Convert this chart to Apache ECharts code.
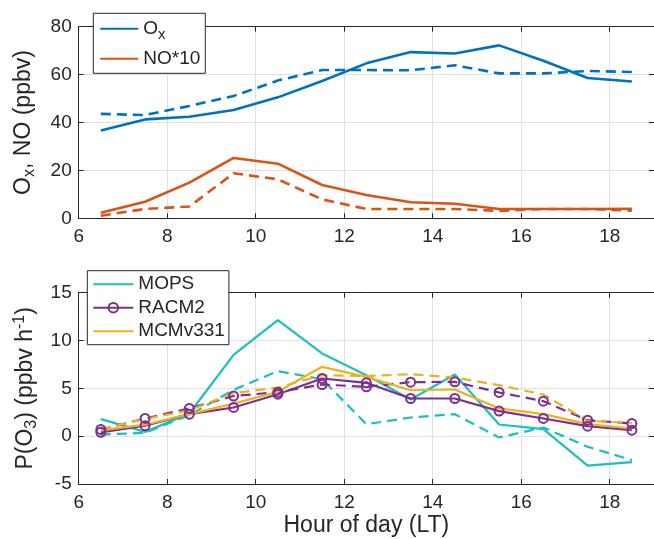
<!DOCTYPE html>
<html>
<head>
<meta charset="utf-8">
<script src="https://cdn.jsdelivr.net/npm/echarts@6/dist/echarts.min.js"></script>
<style>
html,body{margin:0;padding:0;background:#fff;}
#chart{width:654px;height:539px;}
</style>
</head>
<body>
<div id="chart"></div>
<script>
// ---- data ----
const hours = [6.5, 7.5, 8.5, 9.5, 10.5, 11.5, 12.5, 13.5, 14.5, 15.5, 16.5, 17.5, 18.5];

const oxSolid   = [36.7, 41.3, 42.4, 45.2, 50.5, 57.3, 64.7, 69.4, 68.8, 72.2, 65.8, 58.6, 57.1];
const oxDashed  = [43.6, 43.1, 46.9, 51.1, 57.5, 61.9, 61.9, 61.8, 63.9, 60.5, 60.5, 61.5, 61.1];
const no10Solid = [2.3, 6.9, 14.9, 25.2, 22.8, 13.9, 9.7, 6.7, 6.1, 3.9, 3.9, 3.9, 4.0];
const no10Dashed= [1.1, 3.9, 4.9, 18.8, 16.3, 7.9, 3.9, 3.9, 3.9, 3.1, 3.9, 3.9, 3.2];

const mopsSolid  = [1.78, 0.45, 2.37, 8.5, 12.13, 8.65, 6.38, 3.84, 6.45, 1.22, 0.73, -3.07, -2.72];
const mopsDashed = [0.17, 0.35, 2.2, 4.85, 6.8, 5.96, 1.25, 1.95, 2.3, -0.14, 0.91, -1.1, -2.5];
const racmSolid  = [0.4, 1.1, 2.3, 3.0, 4.39, 6.03, 5.58, 3.94, 3.94, 2.62, 1.85, 1.05, 0.63];
const racmDashed = [0.7, 1.85, 2.9, 4.2, 4.6, 5.4, 5.16, 5.65, 5.68, 4.57, 3.66, 1.67, 1.32];
const mcmSolid   = [0.6, 1.2, 2.3, 3.4, 4.64, 7.25, 6.2, 4.8, 4.88, 2.9, 2.3, 1.26, 0.8];
const mcmDashed  = [0.75, 1.8, 2.7, 4.5, 5.09, 6.38, 6.28, 6.48, 6.14, 5.33, 4.36, 1.6, 1.39];

const xTicks = [6, 8, 10, 12, 14, 16, 18];
const topLegend = ['Ox', 'NO*10'];
const bottomLegend = ['MOPS', 'RACM2', 'MCMv331'];

// ---- styling ----
const FONT = '"Liberation Sans", Arial, Helvetica, sans-serif';
const INK = '#262626';
const GRID = '#e0e0e0';
const C = { ox: '#0072BD', no: '#D95319', mops: '#1CBFBF', racm: '#7E2F8E', mcm: '#EDB120' };
const CLEAR = 'rgba(0,0,0,0)';
const TICK_FS = 19, NAME_FS = 23, LEG_FS = 19;

function pairs(ys) { return hours.map((h, i) => [h, ys[i]]); }

function xAx(gi, pos, labels) {
  return {
    type: 'value', gridIndex: gi, position: pos, min: 6, max: 19, interval: 2,
    axisLine: { show: true, onZero: false, lineStyle: { color: INK, width: 1 } },
    axisTick: { show: true, inside: true, length: 5, lineStyle: { color: INK } },
    axisLabel: { show: labels, color: INK, fontSize: TICK_FS, fontFamily: FONT, margin: 9, showMaxLabel: false,
                 formatter: v => xTicks.indexOf(v) >= 0 ? String(v) : '' },
    splitLine: { show: labels, lineStyle: { color: GRID, width: 1 } }
  };
}
function yAx(gi, pos, min, max, iv, labels, extra) {
  return Object.assign({
    type: 'value', gridIndex: gi, position: pos, min: min, max: max, interval: iv,
    axisLine: { show: true, onZero: false, lineStyle: { color: INK, width: 1 } },
    axisTick: { show: true, inside: true, length: 5, lineStyle: { color: INK } },
    axisLabel: { show: labels, color: INK, fontSize: TICK_FS, fontFamily: FONT, margin: 7 },
    splitLine: { show: labels, lineStyle: { color: GRID, width: 1 } }
  }, extra || {});
}

function line(name, ys, color, dashed, xi, yi, w, sym) {
  return {
    type: 'line', name: name, xAxisIndex: xi, yAxisIndex: yi, data: pairs(ys),
    symbol: sym ? 'circle' : 'none', symbolSize: 9, showSymbol: !!sym,
    lineStyle: { color: color, width: w, type: dashed ? [10, 6] : 'solid' },
    itemStyle: { color: sym ? CLEAR : color, borderWidth: 2, borderColor: color },
    emphasis: { disabled: true }, animation: false, z: 3
  };
}

const richMain = {
  a: { fontSize: NAME_FS, fontFamily: FONT, color: INK },
  s: { fontSize: 16, fontFamily: FONT, color: INK, padding: [12, 0, 0, 0] },
  p: { fontSize: 16, fontFamily: FONT, color: INK, padding: [0, 0, 12, 0] }
};
const richLegend = {
  a: { fontSize: LEG_FS, fontFamily: FONT, color: INK },
  s: { fontSize: 15, fontFamily: FONT, color: INK, padding: [12, 0, 0, 0] }
};
const noSym = { opacity: 0, color: CLEAR, borderWidth: 0 };

const chart = echarts.init(document.getElementById('chart'), null, { renderer: 'canvas' });
chart.setOption({
  backgroundColor: '#ffffff',
  animation: false,
  grid: [
    { left: 78.7, top: 26.7, width: 579.2, height: 191.6, containLabel: false },
    { left: 78.7, top: 292.7, width: 579.2, height: 191.3, containLabel: false }
  ],
  xAxis: [
    xAx(0, 'bottom', true),
    Object.assign(xAx(1, 'bottom', true), {
      name: 'Hour of day (LT)', nameLocation: 'middle', nameGap: 30,
      nameTextStyle: { fontSize: NAME_FS, fontFamily: FONT, color: INK }
    }),
    xAx(0, 'top', false),
    xAx(1, 'top', false)
  ],
  yAxis: [
    yAx(0, 'left', 0, 80, 20, true, {
      name: '{a|O}{s|x}{a|, NO (ppbv)}', nameLocation: 'middle', nameGap: 41, nameRotate: 90,
      nameTextStyle: { fontSize: NAME_FS, fontFamily: FONT, color: INK, rich: richMain }
    }),
    yAx(1, 'left', -5, 15, 5, true, {
      name: '{a|P(O}{s|3}{a|) (ppbv h}{p|-1}{a|)}', nameLocation: 'middle', nameGap: 37, nameRotate: 90,
      nameTextStyle: { fontSize: NAME_FS, fontFamily: FONT, color: INK, rich: richMain }
    }),
    yAx(0, 'right', 0, 80, 20, false),
    yAx(1, 'right', -5, 15, 5, false)
  ],
  legend: [
    {
      data: topLegend.map(n => ({ name: n, itemStyle: noSym })),
      orient: 'vertical', left: 93.3, top: 13.3,
      backgroundColor: '#ffffff', borderColor: INK, borderWidth: 1, borderRadius: 0,
      padding: [6, 5, 5, 6], itemGap: 7, itemWidth: 38, itemHeight: 12,
      selectedMode: false,
      formatter: n => n === 'Ox' ? '{a|O}{s|x}' : '{a|' + n + '}',
      textStyle: { fontSize: LEG_FS, fontFamily: FONT, color: INK, rich: richLegend }
    },
    {
      data: bottomLegend.map(n => n === 'RACM2' ? { name: n } : { name: n, itemStyle: noSym }),
      orient: 'vertical', left: 87.3, top: 270.7,
      backgroundColor: '#ffffff', borderColor: INK, borderWidth: 1, borderRadius: 0,
      padding: [4, 4, 4, 5], itemGap: 4.5, itemWidth: 40, itemHeight: 12,
      selectedMode: false,
      textStyle: { fontSize: LEG_FS, fontFamily: FONT, color: INK }
    }
  ],
  series: [
    line('Ox', oxSolid, C.ox, false, 0, 0, 2.6),
    line('Ox (dashed)', oxDashed, C.ox, true, 0, 0, 2.6),
    line('NO*10', no10Solid, C.no, false, 0, 0, 2.6),
    line('NO*10 (dashed)', no10Dashed, C.no, true, 0, 0, 2.6),
    line('MOPS', mopsSolid, C.mops, false, 1, 1, 2.2),
    line('MOPS (dashed)', mopsDashed, C.mops, true, 1, 1, 2.2),
    line('RACM2', racmSolid, C.racm, false, 1, 1, 2.2, true),
    line('RACM2 (dashed)', racmDashed, C.racm, true, 1, 1, 2.2, true),
    line('MCMv331', mcmSolid, C.mcm, false, 1, 1, 2.2),
    line('MCMv331 (dashed)', mcmDashed, C.mcm, true, 1, 1, 2.2)
  ]
});
</script>
</body>
</html>
